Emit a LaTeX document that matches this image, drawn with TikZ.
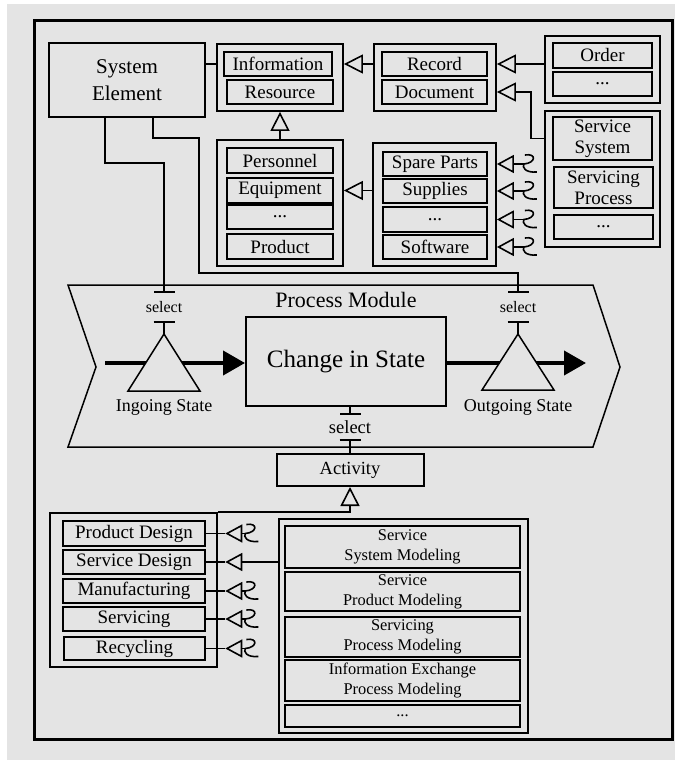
\documentclass[tikz,border=0pt]{standalone}
\usepackage{fontspec}
\setmainfont{Liberation Serif}
\usetikzlibrary{arrows.meta}
\definecolor{bggray}{HTML}{E4E4E4}
\tikzset{
  grp/.style={draw,line width=1.8pt,inner sep=0pt},
  box/.style={draw,line width=2.6pt,inner sep=0pt,align=center,font=\fontsize{19}{21}\selectfont},
  mbox/.style={draw,line width=2.6pt,inner sep=0pt,align=center,font=\fontsize{16.4}{20}\selectfont},
  seltext/.style={inner sep=0pt,minimum height=28pt,font=\fontsize{16}{18}\selectfont},
  conn/.style={line width=1.6pt},
  gen/.style={conn,-{Triangle[open,length=19pt,width=19pt,line width=1.6pt]}},
  genrev/.style={conn,{Triangle[open,length=17pt,width=18pt,line width=1.6pt]}-},
  selbar/.style={conn,-{Bar[width=21pt,line width=2pt]}},
  fat/.style={line width=4pt,-{Triangle[length=22pt,width=24pt]}},
  squig/.pic={\draw[-,line width=1.6pt] (1,-9) .. controls (13,-11) and (12,-1) .. (0,0) .. controls (-2,3) and (1,9) .. (13,8);}
}
\begin{document}
\begin{tikzpicture}[x=1pt,y=-1pt]
  \useasboundingbox (0,0) rectangle (675,760);
  \fill[white] (0,0) rectangle (675,760);
  \fill[bggray] (7,4) rectangle (675,760);
  \draw[line width=3pt] (34,21) rectangle (672,739);

  \node[draw,line width=2pt,minimum width=156pt,minimum height=74pt,align=center,font=\fontsize{21}{27}\selectfont] (sysel) at (127,80) {System\\Element};

  \node[grp,minimum width=126pt,minimum height=67pt] (infogrp) at (280,77.5) {};
  \node[box,minimum width=108pt,minimum height=24pt] (info) at (278,64) {Information};
  \node[box,minimum width=106pt,minimum height=24pt] (resource) at (280,92) {Resource};

  \node[grp,minimum width=122pt,minimum height=67pt] (recgrp) at (435,77.5) {};
  \node[box,minimum width=105pt,minimum height=24pt] (record) at (434.5,64) {Record};
  \node[box,minimum width=105pt,minimum height=24pt] (document) at (434.5,92) {Document};

  \node[grp,minimum width=115pt,minimum height=67pt] (ordgrp) at (602.5,69.5) {};
  \node[box,minimum width=99pt,minimum height=25pt] (order) at (602.5,55.5) {Order};
  \node[box,minimum width=99pt,minimum height=24pt] (orddots) at (602.5,84) {...};

  \node[grp,minimum width=115pt,minimum height=136pt] (svcgrp) at (602.5,179) {};
  \node[box,minimum width=99pt,minimum height=43pt] (svcsys) at (602.5,138.5) {Service\\System};
  \node[box,minimum width=99pt,minimum height=41pt] (svcproc) at (603.5,187.5) {Servicing\\Process};
  \node[box,minimum width=99pt,minimum height=24pt] (svcdots) at (603.5,227) {...};

  \node[grp,minimum width=126pt,minimum height=126pt] (persgrp) at (280,203) {};
  \node[box,minimum width=106pt,minimum height=25pt] (personnel) at (280,160.5) {Personnel};
  \node[box,minimum width=106pt,minimum height=25pt] (equipment) at (280,190.5) {Equipment};
  \node[box,minimum width=106pt,minimum height=24pt] (persdots) at (280,217) {...};
  \node[box,minimum width=106pt,minimum height=25pt] (product) at (280,246.5) {Product};

  \node[grp,minimum width=123pt,minimum height=123pt] (sparegrp) at (434.5,204.5) {};
  \node[box,minimum width=104pt,minimum height=24pt] (spare) at (435,164) {Spare Parts};
  \node[box,minimum width=104pt,minimum height=24pt] (supplies) at (435,191) {Supplies};
  \node[box,minimum width=104pt,minimum height=25pt] (spdots) at (435,219.5) {...};
  \node[box,minimum width=104pt,minimum height=24pt] (software) at (435,247) {Software};

  \draw[conn] (sysel.east |- info) -- (infogrp.west |- info);
  \draw[gen] (recgrp.west |- info) -- (infogrp.east |- info);
  \draw[gen] (ordgrp.west |- record) -- (recgrp.east |- record);
  \draw[gen] (svcgrp.west |- svcsys) -- ++(-13,0) |- (recgrp.east |- document);
  \draw[gen] (persgrp.north) -- (infogrp.south);
  \draw[gen] (sparegrp.west |- equipment) -- (persgrp.east |- equipment);
  \foreach \n in {spare,supplies,spdots,software}
    \draw[genrev] (sparegrp.east |- \n) -- ++(27,0) pic {squig};

  \draw[line width=1.5pt] (68,285) -- (593,285) -- (620,367) -- (593,447) -- (68,447) -- (96,367) -- cycle;
  \node[font=\fontsize{22}{24}\selectfont] (pmod) at (346,300) {Process Module};
  \node[draw,line width=2pt,minimum width=200pt,minimum height=89pt,font=\fontsize{25}{28}\selectfont] (cis) at (346,361.5) {Change in State};

  \coordinate (instart) at (105,363);
  \coordinate (outend) at (586,363);
  \draw[fat] (instart) -- (cis.west |- instart);
  \draw[fat] (cis.east |- outend) -- (outend);

  \coordinate (ingtop) at (164,334);
  \coordinate (outtop) at (518,334);
  \draw[line width=1.5pt,fill=bggray] (128,391) -- (ingtop) -- (200,391) -- cycle;
  \draw[line width=1.5pt,fill=bggray] (482,390) -- (outtop) -- (554,390) -- cycle;
  \node[font=\fontsize{18}{20}\selectfont] (ingl) at (164,407) {Ingoing State};
  \node[font=\fontsize{18}{20}\selectfont] (outl) at (518,407) {Outgoing State};

  \node[seltext] (s1) at (164,307) {select};
  \node[seltext] (s2) at (518,307) {select};
  \draw[selbar] ([xshift=-22pt]sysel.south) -- ++(0,45) -| (s1.north);
  \draw[selbar] ([xshift=26pt]sysel.south) -- ++(0,20) -| (199,273) -| (s2.north);
  \draw[selbar] (ingtop) -- (s1.south);
  \draw[selbar] (outtop) -- (s2.south);

  \node[draw,line width=2pt,minimum width=147pt,minimum height=32pt,font=\fontsize{18.5}{20}\selectfont] (act) at (350,470) {Activity};
  \node[seltext,minimum height=24pt,font=\fontsize{18.5}{20}\selectfont] (s3) at (350,427) {select};
  \draw[selbar] (s3.north |- cis.south) -- (s3.north);
  \draw[selbar] (act.north) -- (s3.south);

  \node[grp,minimum width=167pt,minimum height=154pt] (lgrp) at (133.5,590) {};
  \node[box,minimum width=142pt,minimum height=25pt] (pd) at (134,533.5) {Product Design};
  \node[box,minimum width=142pt,minimum height=24pt] (sd) at (134,562) {Service Design};
  \node[box,minimum width=142pt,minimum height=24pt] (mf) at (134,591) {Manufacturing};
  \node[box,minimum width=142pt,minimum height=24pt] (sv) at (134,619) {Servicing};
  \node[box,minimum width=141pt,minimum height=23pt] (rc) at (134.5,648.5) {Recycling};
  \draw[gen] (lgrp.north east) -| (act.south);

  \node[grp,line width=2.4pt,minimum width=249pt,minimum height=214pt] (rgrp) at (403.5,626) {};
  \node[mbox,minimum width=235pt,minimum height=42pt] (m1) at (402.5,547) {Service\\System Modeling};
  \node[mbox,minimum width=235pt,minimum height=39pt] (m2) at (402.5,591.5) {Service\\Product Modeling};
  \node[mbox,minimum width=235pt,minimum height=40pt] (m3) at (402.5,637) {Servicing\\Process Modeling};
  \node[mbox,minimum width=235pt,minimum height=41pt] (m4) at (402.5,680.5) {Information Exchange\\Process Modeling};
  \node[mbox,minimum width=235pt,minimum height=22pt] (m5) at (402.5,716) {...};

  \foreach \n in {pd,mf,sv,rc}{
    \draw[conn] (\n.east) -- ++(19,0) coordinate (tip\n);
    \draw[genrev] (tip\n) -- ++(20,0) pic {squig};
  }
  \draw[conn] (sd.east) -- ++(19,0) coordinate (tipsd);
  \draw[genrev] (tipsd) -- (rgrp.west |- tipsd);
\end{tikzpicture}
\end{document}
